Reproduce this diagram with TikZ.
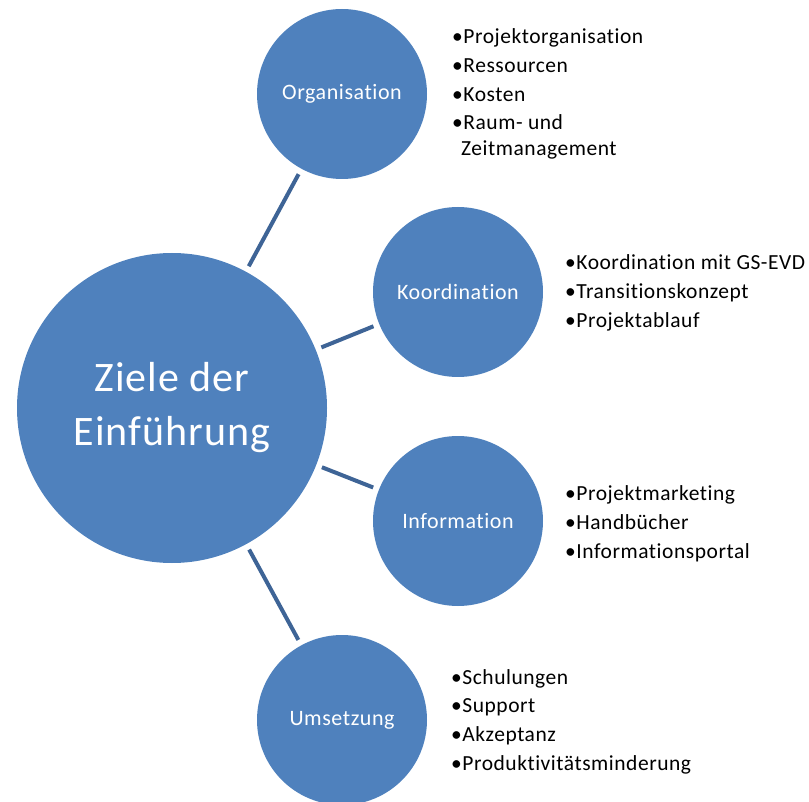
\documentclass[tikz,border=0pt]{standalone}
\usepackage{fontspec}
\setmainfont{Carlito}[LetterSpace=2.5, Ligatures=NoCommon]
\definecolor{kreisblau}{RGB}{79,129,189}
\definecolor{linienblau}{RGB}{62,100,150}
\tikzset{
  kreis/.style={circle, fill=kreisblau, text=white, minimum size=170pt, inner sep=0pt, font=\fontsize{22}{26}\selectfont},
  punkt/.style={anchor=base west, inner sep=0pt, font=\fontsize{21.5}{26}\selectfont},
  verbindung/.style={draw=linienblau, line width=4pt, shorten <=6pt, shorten >=6pt}
}
\begin{document}
\begin{tikzpicture}[x=1pt, y=-1pt]
\useasboundingbox (0,0) rectangle (809,802);
\node[kreis, minimum size=310pt, align=center, font=\fontsize{42}{54}\selectfont] (ziele) at (172,408) {Ziele der\\Einführung};
\node[kreis] (org) at (342,94) {Organisation};
\node[kreis] (koord) at (458,292) {Koordination};
\node[kreis] (info) at (458,521) {Information};
\node[kreis] (ums) at (342,720) {Umsetzung};

\draw[verbindung] (ziele)--(org);
\draw[verbindung] (ziele)--(koord);
\draw[verbindung] (ziele)--(info);
\draw[verbindung] (ziele)--(ums);

\foreach \t [count=\i] in {Projektorganisation, Ressourcen, Kosten, Raum- und}
{
    \node[punkt] (org\i) at (452,{44+28.6*(\i-1)}) {\textbullet\t};
}
\node[punkt] (org5) at (461,156) {Zeitmanagement};
\foreach \t [count=\i] in {Koordination mit GS-EVD, Transitionskonzept, Projektablauf}
{
    \node[punkt] (koord\i) at (565,{270+29*(\i-1)}) {\textbullet\t};
}
\foreach \t [count=\i] in {Projektmarketing, Handbücher, Informationsportal}
{
    \node[punkt] (info\i) at (565,{500+29*(\i-1)}) {\textbullet\t};
}
\foreach \t [count=\i] in {Schulungen, Support, Akzeptanz, Produktivitätsminderung}
{
    \node[punkt] (ums\i) at (451,{684+28.7*(\i-1)}) {\textbullet\t};
}
\end{tikzpicture}
\end{document}
